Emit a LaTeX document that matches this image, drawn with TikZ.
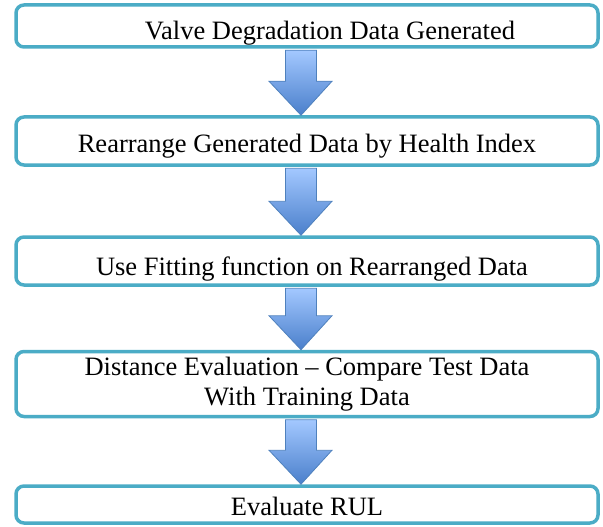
\documentclass[tikz,border=0pt]{standalone}
\usepackage{fontspec}
\setmainfont{Liberation Serif}
\usetikzlibrary{calc}
\definecolor{boxteal}{HTML}{4BACC6}
\definecolor{arrtop}{HTML}{A3C8FF}
\definecolor{arrbot}{HTML}{4A7FCB}
\definecolor{arredge}{HTML}{4F81BD}
\newcommand{\flowarrow}[2]{%
	\shade[top color=arrtop,bottom color=arrbot,draw=arredge,line width=0.8pt,line join=miter]
		let \p1=(#1.south), \p2=(#2.north) in
		(\x1-21.5pt,\y1-1.5pt) -- (\x1+9.5pt,\y1-1.5pt) -- (\x1+9.5pt,\y2+34pt) -- (\x1+25pt,\y2+34pt)
		-- (\x2-6pt,\y2) -- (\x1-38pt,\y2+34pt) -- (\x1-21.5pt,\y2+34pt) -- cycle;}
\begin{document}
\begin{tikzpicture}[x=1pt,y=-1pt,
		stepbox/.style={shape=rectangle,draw=boxteal,line width=3.5pt,rounded corners=8pt,fill=white,minimum width=582pt,inner sep=0pt,align=center,font=\fontsize{26.5}{30}\selectfont},
		lowtext/.style={text depth=0pt,text height=#1}]
			\useasboundingbox (0,0) rectangle (603,527);
			\node[stepbox,lowtext=28pt,minimum height=42pt] (A) at (307,26) {\hspace*{46pt}Valve Degradation Data Generated};
			\node[stepbox,lowtext=22pt,minimum height=48pt] (B) at (307,141) {Rearrange Generated Data by Health Index};
			\node[stepbox,lowtext=28pt,minimum height=48pt] (C) at (307,261) {\hspace*{10pt}Use Fitting function on Rearranged Data};
			\node[stepbox,minimum height=65pt] (D) at (307,384) {Distance Evaluation -- Compare Test Data\\With Training Data};
			\node[stepbox,lowtext=21pt,minimum height=37pt] (E) at (307,504.5) {Evaluate RUL};
			
			\flowarrow{A}{B}
			\flowarrow{B}{C}
			\flowarrow{C}{D}
			\flowarrow{D}{E}

		\end{tikzpicture}
\end{document}
